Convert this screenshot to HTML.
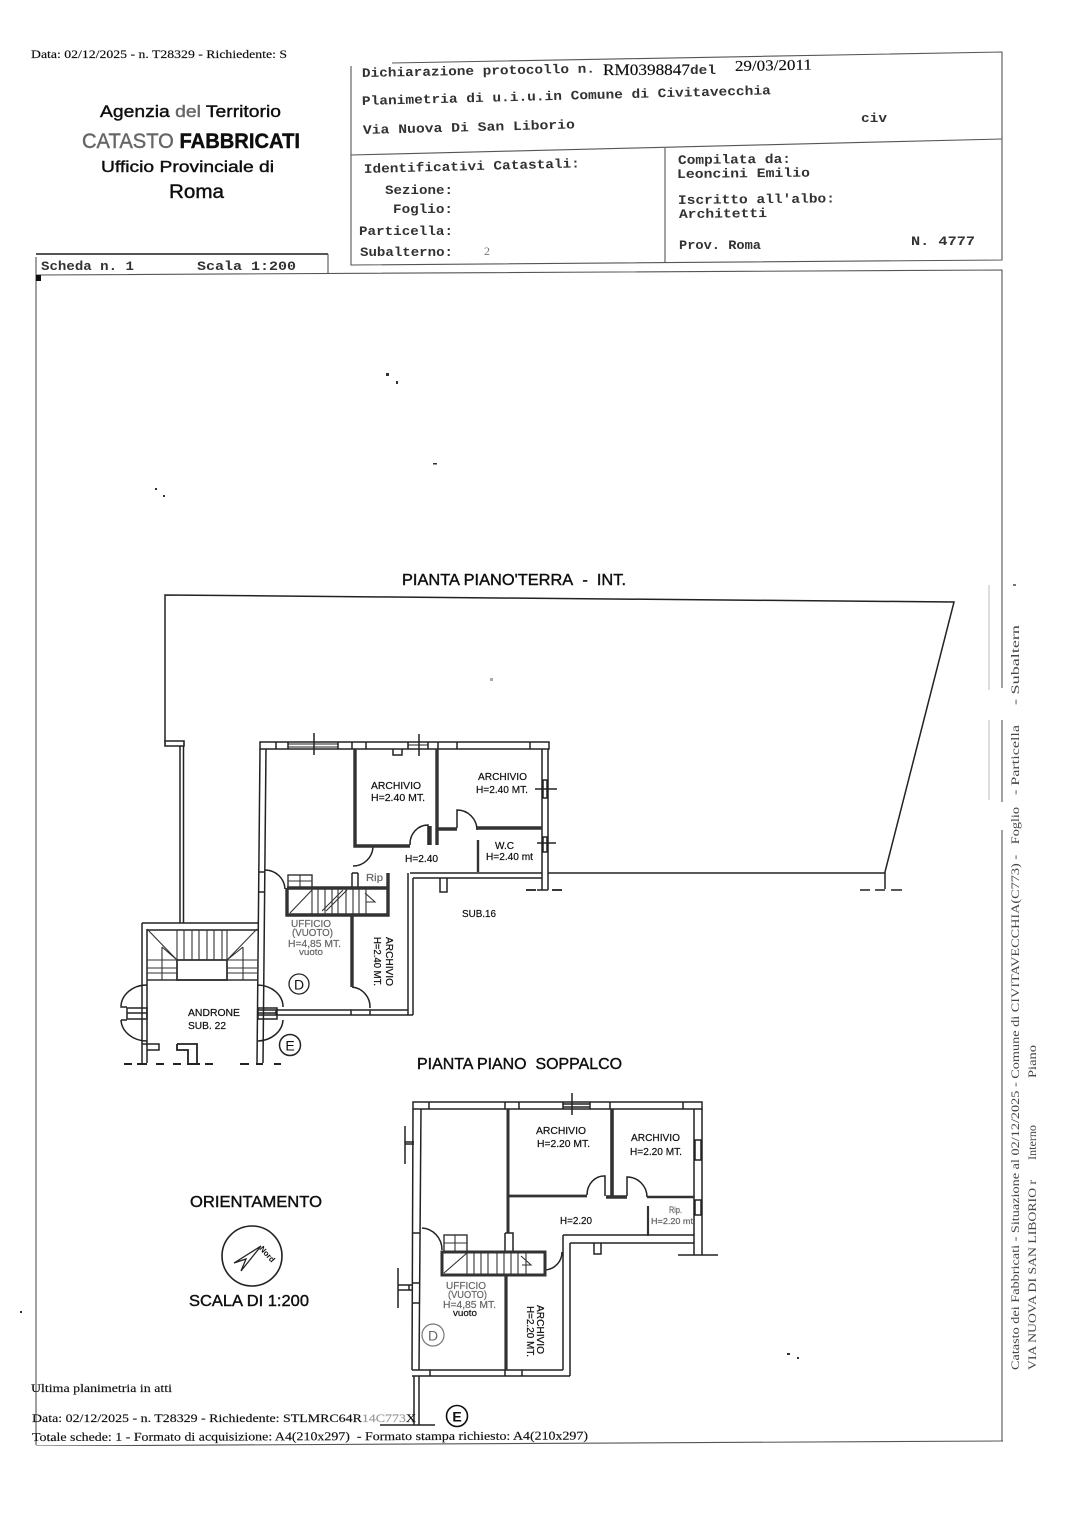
<!DOCTYPE html>
<html lang="it">
<head>
<meta charset="utf-8">
<title>Planimetria catastale</title>
<style>
html,body{margin:0;padding:0;background:#fff;width:1085px;height:1535px;overflow:hidden}
svg{display:block}
.s{font-family:"Liberation Serif",serif;fill:#111;stroke:#111;stroke-width:.15}
.m{font-family:"Liberation Mono",monospace;font-weight:700;fill:#333;font-size:13px}
.a{font-family:"Liberation Sans",sans-serif;fill:#111;stroke:#111;stroke-width:.4}
.l{font-family:"Liberation Sans",sans-serif;fill:#111;stroke:#111;stroke-width:.2;font-size:10px}
.g{fill:#666;stroke:#666}
.w{fill:none;stroke:#222;stroke-width:1.5}
.t{fill:none;stroke:#333;stroke-width:3.4}
.f{fill:none;stroke:#333;stroke-width:1.1}
.b{fill:none;stroke:#555;stroke-width:1.1}
</style>
</head>
<body>
<svg width="1085" height="1535" viewBox="0 0 1085 1535" xmlns="http://www.w3.org/2000/svg">
<defs><filter id="scan" x="0" y="0" width="100%" height="100%"><feGaussianBlur stdDeviation="0.35"/></filter></defs>
<rect width="1085" height="1535" fill="#fff"/>
<g filter="url(#scan)">

<!-- HEADER TEXT -->
<text class="s" x="31" y="58" font-size="12" textLength="256" lengthAdjust="spacingAndGlyphs">Data: 02/12/2025 - n. T28329 - Richiedente: S</text>
<text class="a" x="100" y="117" font-size="17" textLength="181" lengthAdjust="spacingAndGlyphs">Agenzia <tspan class="g">del</tspan> Territorio</text>
<text class="a" x="82" y="148" font-size="21" textLength="218" lengthAdjust="spacingAndGlyphs"><tspan class="g">CATASTO</tspan> <tspan font-weight="700">FABBRICATI</tspan></text>
<text class="a" x="101" y="172" font-size="16" textLength="173" lengthAdjust="spacingAndGlyphs">Ufficio Provinciale di</text>
<text class="a" x="169" y="198" font-size="19" textLength="55" lengthAdjust="spacingAndGlyphs">Roma</text>

<!-- HEADER BOXES -->
<g class="b">
<path d="M392 63 L1002 52 V260 L351 265 V66"/>
<path d="M351 155 L1002 139"/>
<path d="M665 148 V263"/>
<path d="M36 257 V1445"/>
<path d="M328 254 V274"/>
<path d="M36 254 H328" stroke-width="2"/>
<path d="M36 275 L1002 270 V600" />
<path d="M1002 600 V688 M1002 720 V802 M1002 830 V1441"/>
<path d="M36 1446 L1003 1441"/>
</g>
<path d="M989 585 V690 M989 720 V800" stroke="#ddd" stroke-width="2" fill="none"/>
<rect x="36" y="275" width="5" height="6" fill="#111"/>

<text class="m" x="362" y="77" transform="rotate(-1.1 362 77)" textLength="233" lengthAdjust="spacingAndGlyphs">Dichiarazione protocollo n.</text>
<text class="s" x="603" y="75" font-size="16" textLength="87" lengthAdjust="spacingAndGlyphs">RM0398847</text>
<text class="m" x="690" y="74" textLength="26" lengthAdjust="spacingAndGlyphs">del</text>
<text class="s" x="735" y="71" font-size="15" textLength="77" lengthAdjust="spacingAndGlyphs" transform="rotate(-1.1 735 71)">29/03/2011</text>
<text class="m" x="362" y="105" transform="rotate(-1.5 362 105)" textLength="409" lengthAdjust="spacingAndGlyphs">Planimetria di u.i.u.in Comune di Civitavecchia</text>
<text class="m" x="363" y="134" transform="rotate(-1.5 363 134)" textLength="212" lengthAdjust="spacingAndGlyphs">Via Nuova Di San Liborio</text>
<text class="m" x="861" y="122" textLength="26" lengthAdjust="spacingAndGlyphs">civ</text>
<text class="m" x="364" y="173" transform="rotate(-1.5 364 173)" textLength="216" lengthAdjust="spacingAndGlyphs">Identificativi Catastali:</text>
<text class="m" x="385" y="194" textLength="68" lengthAdjust="spacingAndGlyphs">Sezione:</text>
<text class="m" x="393" y="213" textLength="60" lengthAdjust="spacingAndGlyphs">Foglio:</text>
<text class="m" x="359" y="235" textLength="94" lengthAdjust="spacingAndGlyphs">Particella:</text>
<text class="m" x="360" y="256" textLength="93" lengthAdjust="spacingAndGlyphs">Subalterno:</text>
<text x="484" y="255" font-size="12" font-family="Liberation Serif, serif" fill="#777">2</text>
<text class="m" x="678" y="164" textLength="113" lengthAdjust="spacingAndGlyphs" transform="rotate(-0.6 678 164)">Compilata da:</text>
<text class="m" x="677" y="178" textLength="133" lengthAdjust="spacingAndGlyphs" transform="rotate(-0.6 677 178)">Leoncini Emilio</text>
<text class="m" x="678" y="204" textLength="157" lengthAdjust="spacingAndGlyphs" transform="rotate(-0.6 678 204)">Iscritto all'albo:</text>
<text class="m" x="679" y="218" textLength="88" lengthAdjust="spacingAndGlyphs" transform="rotate(-0.6 679 218)">Architetti</text>
<text class="m" x="679" y="249" textLength="82" lengthAdjust="spacingAndGlyphs">Prov. Roma</text>
<text class="m" x="911" y="245" textLength="64" lengthAdjust="spacingAndGlyphs">N. 4777</text>
<text class="m" x="41" y="270" textLength="93" lengthAdjust="spacingAndGlyphs">Scheda n. 1</text>
<text class="m" x="197" y="270" textLength="99" lengthAdjust="spacingAndGlyphs">Scala 1:200</text>

<!-- SPECKS -->
<g fill="#333">
<rect x="386" y="373" width="3" height="3"/><rect x="396" y="381" width="2" height="3"/>
<rect x="433" y="463" width="4" height="1.5"/><rect x="155" y="488" width="2" height="2"/><rect x="163" y="495" width="2" height="2"/>
<rect x="20" y="1311" width="2" height="2"/><rect x="787" y="1353" width="3" height="2"/><rect x="797" y="1357" width="2" height="2"/>
<rect x="1013" y="584" width="3" height="2" fill="#777"/><rect x="490" y="678" width="3" height="3" fill="#aaa"/>
</g>

<!-- TITLES -->
<text class="a" x="402" y="585" font-size="16" textLength="224" lengthAdjust="spacingAndGlyphs">PIANTA PIANO'TERRA&#160;&#160;-&#160;&#160;INT.</text>
<text class="a" x="417" y="1069" font-size="16" textLength="205" lengthAdjust="spacingAndGlyphs">PIANTA PIANO&#160;&#160;SOPPALCO</text>
<text class="a" x="190" y="1207" font-size="16" textLength="132" lengthAdjust="spacingAndGlyphs">ORIENTAMENTO</text>
<text class="a" x="189" y="1306" font-size="16" textLength="120" lengthAdjust="spacingAndGlyphs">SCALA DI 1:200</text>

<!-- COMPASS -->
<circle cx="252" cy="1256" r="30" fill="none" stroke="#222" stroke-width="1.6"/>
<path d="M261 1246 L234 1263 L246 1259 L241 1271 Z" fill="#fff" stroke="#222" stroke-width="1.3"/>
<text x="259" y="1249" font-size="8" font-weight="700" font-family="Liberation Sans, sans-serif" fill="#111" transform="rotate(48 259 1249)">Nord</text>

<!-- GROUND FLOOR: SITE OUTLINE -->
<g class="w">
<path d="M165 741 V595 L954 602 L885 872 V889"/>
<path d="M165 741 H184 V746 H165 Z" stroke-width="1.6"/>
<path d="M180 746 V923 M183.5 746 V923"/>
<path d="M548 873 H885"/>
<path d="M860 890 H870 M875 890 H885 M891 890 H902" stroke-width="1.6"/>
<path d="M552 890 H562" stroke-width="1.8"/>
<path d="M526 890 H536" stroke-width="1.8"/>
<path d="M537 890 H548"/>
</g>

<!-- GROUND FLOOR: WALLS -->
<g class="w">
<rect x="260" y="742" width="289" height="7"/>
<path d="M260 749 L257 1063 M266 749 L263 1063"/>
<path d="M542 749 V890 M548 749 V890"/>
<path d="M276 742 V749 M288 742 V749 M338 742 V749 M352 742 V749 M366 742 V749 M408 742 V749 M428 742 V749 M438 742 V749 M457 742 V749 M530 742 V749"/>
<path d="M288 744 H338 M288 747 H338 M408 745 H428" stroke-width="1"/>
<path d="M314 733 V755 M419 734 V756"/>
<path d="M393 749 V755 H402 V749"/>
<rect x="543" y="780" width="4" height="18"/>
<path d="M535 789 H557"/>
<rect x="543" y="837" width="4" height="15"/>
<path d="M537 843 H556"/>
<!-- corridor and step -->
<path d="M410 873 H542 M413 878 H542"/>
<path d="M408 873 V1015 M413 878 V1015"/>
<path d="M258 1010 H408 M258 1015 H413"/>
<path d="M276 1010 V1015 M351 1010 V1015 M370 1010 V1015"/>
<path d="M440 878 V892 H447 V878"/>
<path d="M259 872 H265 M258.800 892 H264.800"/>
<!-- doors -->
<path d="M410 845 A18 19 0 0 1 428 825 V845"/>
<path d="M457 828 V810 A20 20 0 0 1 477 830"/>
<path d="M373 847 A20 20 0 0 1 353 866"/>
<path d="M265 870 A20 20 0 0 1 285 889"/>
<path d="M352 987 A20 20 0 0 1 370 1008"/>
<!-- rip -->
<path d="M352 873 V888 M358 873 V888 M352 873 H358"/>
</g>
<g class="t">
<path d="M355 749 V846 H410"/>
<path d="M437 749 V845 M430 845 V826" />
<path d="M437 829 H457 M477 828 H542"/>
<path d="M478 840 V872" stroke-width="2.4"/>
<path d="M287 888 H388 V873 M287 888 V915 H388 V888"/>
<path d="M352 915 V987"/>
</g>
<!-- ground stair -->
<g class="f">
<rect x="288" y="875" width="24" height="13" stroke-width="1.4"/>
<path d="M288 881 H312 M300 875 V888"/>
<path d="M312 889 V914 M318 889 V914 M325 889 V914 M332 889 V914 M338 889 V914 M346 889 V914 M353 889 V914 M359 889 V914 M366 889 V914"/>
<path d="M290 913 L312 890 M322 911 L343 890 M326 911 L347 890 M365 893 L375 902 L366 902"/>
</g>

<!-- ANDRONE -->
<g class="w">
<path d="M142 923 V1063 M147 929 V1063"/>
<path d="M142 923 H258 M147 930 H258"/>
<path d="M147 985 A26 22 0 0 0 121 1007 H127 M121 1020 H127 M121 1020 A26 22 0 0 0 147 1041"/>
<path d="M258 985 A26 22 0 0 1 283 1007 M283 1020 A26 22 0 0 1 258 1041"/>
<rect x="127" y="1008" width="20" height="11"/>
<path d="M127 1013 H147"/>
<rect x="258" y="1008" width="19" height="11"/>
<path d="M258 1013 H277"/>
<path d="M142 1044 H159 V1050 H147"/>
<path d="M177 1044 H197 V1064 M177 1044 V1050 H188 V1064" stroke-width="1.8"/>
</g>
<g class="f">
<path d="M147 929 L177 960 M162 947 L177 960 M257 929 L227 960 M243 947 L227 960"/>
<path d="M177 930 V960 M184 930 V960 M192 930 V960 M199 930 V960 M207 930 V960 M214 930 V960 M222 930 V960 M227 930 V960"/>
<path d="M147 960 H177 M147 968 H177 M147 973 H177 M227 960 H257 M227 968 H257 M227 973 H257"/>
<path d="M162 947 V980 M243 947 V980"/>
</g>
<rect x="177" y="960" width="50" height="20" fill="none" stroke="#333" stroke-width="1.8"/>
<path d="M147 980 H257" stroke="#333" stroke-width="1.6" fill="none"/>
<g stroke="#222" stroke-width="2" fill="none">
<path d="M124 1064 H132 M137 1064 H147 M156 1064 H164 M173 1064 H181 M187 1064 H200 M205 1064 H213 M240 1064 H249 M256 1064 H263 M274 1064 H281"/>
</g>

<!-- GROUND LABELS -->
<text class="l" x="371" y="789" textLength="50" lengthAdjust="spacingAndGlyphs">ARCHIVIO</text>
<text class="l" x="371" y="801" textLength="54" lengthAdjust="spacingAndGlyphs">H=2.40 MT.</text>
<text class="l" x="478" y="780" textLength="49" lengthAdjust="spacingAndGlyphs">ARCHIVIO</text>
<text class="l" x="476" y="793" textLength="52" lengthAdjust="spacingAndGlyphs">H=2.40 MT.</text>
<text class="l" x="405" y="862" textLength="33" lengthAdjust="spacingAndGlyphs">H=2.40</text>
<text class="l" x="495" y="849" textLength="19" lengthAdjust="spacingAndGlyphs">W.C</text>
<text class="l" x="486" y="860" textLength="47" lengthAdjust="spacingAndGlyphs">H=2.40 mt</text>
<text class="l" x="462" y="917" textLength="34" lengthAdjust="spacingAndGlyphs">SUB.16</text>
<text class="l g" x="366" y="881" textLength="17" lengthAdjust="spacingAndGlyphs">Rip</text>
<text class="l g" x="291" y="927" textLength="40" lengthAdjust="spacingAndGlyphs">UFFICIO</text>
<text class="l g" x="292" y="936" textLength="41" lengthAdjust="spacingAndGlyphs">(VUOTO)</text>
<text class="l g" x="288" y="947" textLength="53" lengthAdjust="spacingAndGlyphs">H=4,85 MT.</text>
<text class="l g" x="299" y="955" style="font-size:9px" textLength="24" lengthAdjust="spacingAndGlyphs">vuoto</text>
<text class="l" x="386" y="937" transform="rotate(90 386 937)" textLength="49" lengthAdjust="spacingAndGlyphs">ARCHIVIO</text>
<text class="l" x="374" y="937" transform="rotate(90 374 937)" textLength="49" lengthAdjust="spacingAndGlyphs">H=2.40 MT.</text>
<text class="l" x="188" y="1016" textLength="52" lengthAdjust="spacingAndGlyphs">ANDRONE</text>
<text class="l" x="188" y="1029" textLength="38" lengthAdjust="spacingAndGlyphs">SUB. 22</text>
<circle cx="299" cy="984" r="10" fill="none" stroke="#222" stroke-width="1.3"/>
<text x="299" y="989.5" font-size="14" text-anchor="middle" font-family="Liberation Sans, sans-serif" fill="#111">D</text>
<circle cx="290" cy="1045" r="10.5" fill="none" stroke="#222" stroke-width="1.5"/>
<text x="290" y="1050.5" font-size="14" text-anchor="middle" font-family="Liberation Sans, sans-serif" fill="#111">E</text>

<!-- SOPPALCO -->
<g class="w">
<rect x="413" y="1102" width="289" height="7"/>
<path d="M413 1109 L412 1370 M421 1109 L419 1370"/>
<path d="M694 1109 V1255 M702 1109 V1255"/>
<path d="M429 1102 V1109 M505 1102 V1109 M519 1102 V1109 M563 1102 V1109 M590 1102 V1109 M610 1102 V1109 M683 1102 V1109"/>
<path d="M563 1104 H590 M563 1107 H590" stroke-width="1.4"/>
<path d="M572 1093 V1115"/>
<path d="M563 1235 H694 M570 1243 H694"/>
<path d="M563 1235 V1370 M570 1243 V1376"/>
<path d="M412 1370 H563 M412 1376 H570"/>
<path d="M430 1370 V1376 M505 1370 V1376 M522 1370 V1376"/>
<path d="M594 1243 V1254 H601 V1243"/>
<path d="M678 1255 H718"/>
<path d="M405 1126 V1164 M405 1142 H414 M405 1144 H414"/>
<path d="M398 1268 V1308 M398 1285 H413 M398 1290 H413 M409 1285 V1290"/>
<path d="M413 1233 H420 M413 1303 H420 M413 1283 H420"/>
<rect x="695" y="1140" width="6" height="20"/>
<rect x="695" y="1200" width="6" height="15"/>
<path d="M414 1376 V1425 M419 1376 V1425"/>
<path d="M380 1425 H435" stroke-width="1.5"/>
<path d="M422 1228 A21 22 0 0 1 442 1250"/>
<path d="M545 1270 A18 18 0 0 0 562 1252"/>
<path d="M587 1195 A17 19 0 0 1 605 1176 V1196"/>
<path d="M627 1196 V1177 A20 20 0 0 1 647 1197"/>
<path d="M505 1233 H513 V1252 M505 1233 V1252"/>
</g>
<g class="t">
<path d="M508 1109 V1233" stroke-width="3"/>
<path d="M508 1196 H587" stroke-width="2.8"/>
<path d="M612 1109 V1198 M606 1197 H627" stroke-width="3.6"/>
<path d="M647 1197 H694" stroke-width="2.4"/>
<path d="M648 1206 V1236" stroke-width="2.2"/>
<path d="M442 1252 H545 V1275 H442 Z" stroke-width="3"/>
<path d="M506 1275 V1370" stroke-width="3.2"/>
</g>
<g class="f">
<rect x="444" y="1235" width="23" height="17" stroke-width="1.4"/>
<path d="M444 1243 H467 M455 1235 V1252"/>
<path d="M467 1253 V1274 M474 1253 V1274 M481 1253 V1274 M488 1253 V1274 M497 1253 V1274 M504 1253 V1274 M511 1253 V1274 M518 1253 V1274 M526 1253 V1274"/>
<path d="M444 1273 L467 1253 M521 1256 L531 1265 L522 1265"/>
</g>

<!-- SOPPALCO LABELS -->
<text class="l" x="536" y="1134" textLength="50" lengthAdjust="spacingAndGlyphs">ARCHIVIO</text>
<text class="l" x="537" y="1147" textLength="53" lengthAdjust="spacingAndGlyphs">H=2.20 MT.</text>
<text class="l" x="631" y="1141" textLength="49" lengthAdjust="spacingAndGlyphs">ARCHIVIO</text>
<text class="l" x="630" y="1155" textLength="52" lengthAdjust="spacingAndGlyphs">H=2.20 MT.</text>
<text class="l" x="560" y="1224" textLength="32" lengthAdjust="spacingAndGlyphs">H=2.20</text>
<text class="l g" x="669" y="1213" style="font-size:9px" textLength="13" lengthAdjust="spacingAndGlyphs">Rip.</text>
<text class="l g" x="651" y="1224" style="font-size:8px" textLength="42" lengthAdjust="spacingAndGlyphs">H=2.20 mt</text>
<text class="l g" x="446" y="1289" textLength="40" lengthAdjust="spacingAndGlyphs">UFFICIO</text>
<text class="l g" x="448" y="1298" textLength="39" lengthAdjust="spacingAndGlyphs">(VUOTO)</text>
<text class="l g" x="443" y="1308" textLength="53" lengthAdjust="spacingAndGlyphs">H=4,85 MT.</text>
<text class="l" x="453" y="1316" style="font-size:9px" textLength="24" lengthAdjust="spacingAndGlyphs">vuoto</text>
<text class="l" x="537" y="1305" transform="rotate(90 537 1305)" textLength="49" lengthAdjust="spacingAndGlyphs">ARCHIVIO</text>
<text class="l" x="527" y="1306" transform="rotate(90 527 1306)" textLength="51" lengthAdjust="spacingAndGlyphs">H=2.20 MT.</text>
<circle cx="433" cy="1335" r="11" fill="none" stroke="#777" stroke-width="1.2"/>
<text x="433" y="1340.5" font-size="14" text-anchor="middle" font-family="Liberation Sans, sans-serif" fill="#666">D</text>
<circle cx="457" cy="1416" r="10.5" fill="none" stroke="#111" stroke-width="1.6"/>
<text x="457" y="1421.5" font-size="14" text-anchor="middle" font-weight="700" font-family="Liberation Sans, sans-serif" fill="#111">E</text>

<!-- FOOTER -->
<text class="s" x="31" y="1392" font-size="12" textLength="141" lengthAdjust="spacingAndGlyphs">Ultima planimetria in atti</text>
<text class="s" x="32" y="1422" font-size="12" textLength="384" lengthAdjust="spacingAndGlyphs">Data: 02/12/2025 - n. T28329 - Richiedente: STLMRC64R<tspan fill="#999" stroke="#999">14C773</tspan>X</text>
<text class="s" x="32" y="1441" font-size="12" textLength="556" lengthAdjust="spacingAndGlyphs" transform="rotate(-0.15 32 1441)">Totale schede: 1 - Formato di acquisizione: A4(210x297)&#160;&#160;- Formato stampa richiesto: A4(210x297)</text>

<!-- SIDE VERTICAL TEXT -->
<g font-family="Liberation Serif, serif" font-size="12" fill="#444">
<text x="1019" y="1370" transform="rotate(-90 1019 1370)" textLength="563" lengthAdjust="spacingAndGlyphs">Catasto dei Fabbricati - Situazione al 02/12/2025 - Comune di CIVITAVECCHIA(C773) -&#160;&#160;&#160;Foglio</text>
<text x="1019" y="795" transform="rotate(-90 1019 795)" textLength="70" lengthAdjust="spacingAndGlyphs">- Particella</text>
<text x="1019" y="705" transform="rotate(-90 1019 705)" textLength="80" lengthAdjust="spacingAndGlyphs">- Subaltern</text>
<text x="1036" y="1370" transform="rotate(-90 1036 1370)" textLength="190" lengthAdjust="spacingAndGlyphs">VIA NUOVA DI SAN LIBORIO r</text>
<text x="1036" y="1160" transform="rotate(-90 1036 1160)" textLength="35" lengthAdjust="spacingAndGlyphs">Interno</text>
<text x="1036" y="1078" transform="rotate(-90 1036 1078)" textLength="33" lengthAdjust="spacingAndGlyphs">Piano</text>
</g>
</g>
</svg>
</body>
</html>
